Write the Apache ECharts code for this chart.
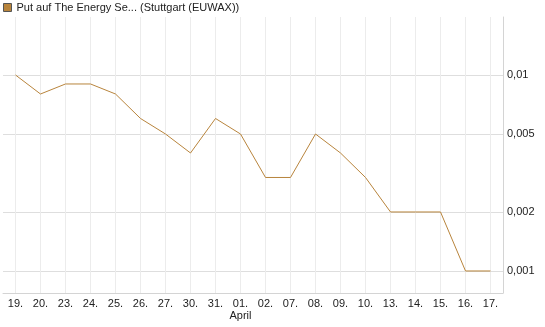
<!DOCTYPE html>
<html>
<head>
<meta charset="utf-8">
<script src="https://cdn.jsdelivr.net/npm/echarts@6/dist/echarts.min.js"></script>
<style>
  html, body { margin: 0; padding: 0; background: #fff; }
  #chart { width: 545px; height: 327px; }
</style>
</head>
<body>
<div id="chart"></div>
<script>
// Tage (Maerz/April)
var days = ['19.', '20.', '23.', '24.', '25.', '26.', '27.', '30.', '31.', '01.',
            '02.', '07.', '08.', '09.', '10.', '13.', '14.', '15.', '16.', '17.'];
var prices = [0.01, 0.008, 0.009, 0.009, 0.008, 0.006, 0.005, 0.004, 0.006, 0.005,
              0.003, 0.003, 0.005, 0.004, 0.003, 0.002, 0.002, 0.002, 0.001, 0.001];
var yTicks = [0.001, 0.002, 0.005, 0.01];
var seriesName = 'Put auf The Energy Se... (Stuttgart (EUWAX))';

var myChart = echarts.init(document.getElementById('chart'));

var option = {
    animation: false,
    textStyle: { fontFamily: 'Liberation Sans, Arial, sans-serif' },
    legend: {
        left: 3,
        top: 2,
        padding: 0,
        itemWidth: 8,
        itemHeight: 8,
        itemGap: 10,
        icon: 'rect',
        textStyle: { fontSize: 11, color: '#222' },
        data: [{ name: seriesName, itemStyle: { color: '#b8843c', borderColor: '#555', borderWidth: 1 } }]
    },
    grid: {
        left: 3,
        right: 42,
        top: 17,
        bottom: 34
    },
    xAxis: {
        type: 'category',
        data: days,
        boundaryGap: true,
        axisLine: { lineStyle: { color: '#d4d4d4' } },
        axisTick: { show: false },
        splitLine: { show: true, alignWithLabel: true, lineStyle: { color: '#ececec' } },
        axisLabel: {
            interval: 0,
            fontSize: 11,
            color: '#222',
            margin: 5,
            lineHeight: 12,
            formatter: function (v) {
                return v === '01.' ? v + '\nApril' : v; // Monatsname unter dem 1.
            }
        }
    },
    yAxis: {
        type: 'log',
        position: 'right',
        logBase: 10,
        min: 0.000772,
        max: 0.01977,
        axisLine: { show: true, lineStyle: { color: '#d4d4d4' } },
        axisTick: { show: false, customValues: yTicks },
        splitLine: { show: true, lineStyle: { color: '#dedede' } },
        axisLabel: {
            customValues: yTicks,
            fontSize: 11,
            color: '#222',
            margin: 4,
            formatter: function (v) {
                return String(+v.toPrecision(3)).replace('.', ',');
            }
        }
    },
    series: [
        {
            name: seriesName,
            type: 'line',
            data: prices,
            color: '#b8843c',
            showSymbol: false,
            lineStyle: { width: 1 }
        }
    ]
};

option && myChart.setOption(option);
</script>
</body>
</html>
